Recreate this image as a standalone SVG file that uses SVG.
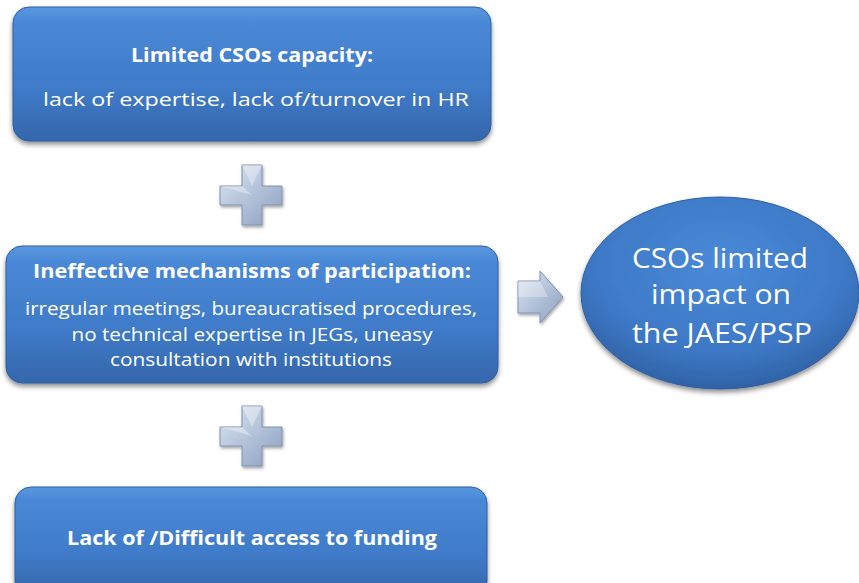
<svg xmlns="http://www.w3.org/2000/svg" width="859" height="583" viewBox="0 0 859 583">
<defs>
<linearGradient id="gBox" x1="0" y1="0" x2="0" y2="1">
<stop offset="0" stop-color="#5a98e0"/>
<stop offset="0.12" stop-color="#4a88d6"/>
<stop offset="0.6" stop-color="#3f7bc9"/>
<stop offset="1" stop-color="#3566ab"/>
</linearGradient>
<radialGradient id="gEll" cx="0.5" cy="0.35" r="0.65">
<stop offset="0" stop-color="#4a8ad8"/>
<stop offset="0.7" stop-color="#3d78c6"/>
<stop offset="1" stop-color="#3062a6"/>
</radialGradient>
<linearGradient id="gPlus" x1="0" y1="0" x2="1" y2="1">
<stop offset="0" stop-color="#dce5f2"/>
<stop offset="0.5" stop-color="#b3c2da"/>
<stop offset="1" stop-color="#8c9fbe"/>
</linearGradient>
<filter id="sh" x="-10%" y="-10%" width="120%" height="130%">
<feDropShadow dx="0" dy="3" stdDeviation="2.5" flood-color="#000" flood-opacity="0.45"/>
</filter>
<filter id="sh2" x="-20%" y="-20%" width="140%" height="140%">
<feDropShadow dx="1" dy="2" stdDeviation="1.5" flood-color="#000" flood-opacity="0.35"/>
</filter>
</defs>
<style>
.box{fill:url(#gBox);stroke:#2f5f9e;stroke-width:1}
.t{font-family:"Open Sans","Noto Sans","Liberation Sans",sans-serif;fill:#ffffff;text-anchor:middle}
.b{font-weight:bold}
.sym{fill:url(#gPlus);stroke:#7e91b0;stroke-width:1}
</style>
<rect width="859" height="583" fill="#ffffff"/>
<g id="connectors">
<g id="plus1" filter="url(#sh2)">
<path class="sym" d="M242,165 H262 V186 H282 V205 H262 V225 H242 V205 H220 V186 H242 Z"/>
<path d="M242,165 H262 L252,186 Z M220,186 L242,186 L252,195 Z" fill="#ffffff" opacity="0.35"/>
</g>
<g id="plus2" filter="url(#sh2)">
<path class="sym" d="M242,406 H262 V427 H282 V446 H262 V466 H242 V446 H220 V427 H242 Z"/>
<path d="M242,406 H262 L252,427 Z M220,427 L242,427 L252,436 Z" fill="#ffffff" opacity="0.35"/>
</g>
<g id="arrow" filter="url(#sh2)">
<path class="sym" d="M518,281 H540 V271 L563,297 L540,323 V313 H518 Z"/>
<path d="M518,281 H540 L548,297 L518,297 Z" fill="#ffffff" opacity="0.3"/>
</g>
</g>
<g id="box1">
<rect class="box" x="13" y="7" width="478" height="134" rx="16" filter="url(#sh)"/>
<text class="t b" x="252" y="62" font-size="19" textLength="242" lengthAdjust="spacingAndGlyphs">Limited CSOs capacity:</text>
<text class="t" x="256" y="106" font-size="18.5" textLength="426" lengthAdjust="spacingAndGlyphs">lack of expertise, lack of/turnover in HR</text>
</g>
<g id="box2">
<rect class="box" x="6" y="246" width="492" height="137" rx="16" filter="url(#sh)"/>
<text class="t b" x="252" y="278" font-size="19" textLength="438" lengthAdjust="spacingAndGlyphs">Ineffective mechanisms of participation:</text>
<text class="t" x="251" y="315" font-size="18.5" textLength="452" lengthAdjust="spacingAndGlyphs">irregular meetings, bureaucratised  procedures,</text>
<text class="t" x="252" y="341" font-size="18.5" textLength="361" lengthAdjust="spacingAndGlyphs">no technical expertise in JEGs, uneasy</text>
<text class="t" x="251" y="366" font-size="18.5" textLength="282" lengthAdjust="spacingAndGlyphs">consultation with institutions</text>
</g>
<g id="box3">
<rect class="box" x="15" y="487" width="472" height="110" rx="16" filter="url(#sh)"/>
<text class="t b" x="252" y="545" font-size="19" textLength="370" lengthAdjust="spacingAndGlyphs">Lack of /Difficult access to funding</text>
</g>
<g id="result">
<ellipse cx="720" cy="293" rx="139" ry="96" fill="url(#gEll)" stroke="#2f5f9e" stroke-width="1" filter="url(#sh)"/>
<text class="t" x="720" y="268" font-size="28" textLength="176" lengthAdjust="spacingAndGlyphs">CSOs limited</text>
<text class="t" x="721" y="304" font-size="28" textLength="140" lengthAdjust="spacingAndGlyphs">impact on</text>
<text class="t" x="722" y="343" font-size="28" textLength="180" lengthAdjust="spacingAndGlyphs">the JAES/PSP</text>
</g>
</svg>
